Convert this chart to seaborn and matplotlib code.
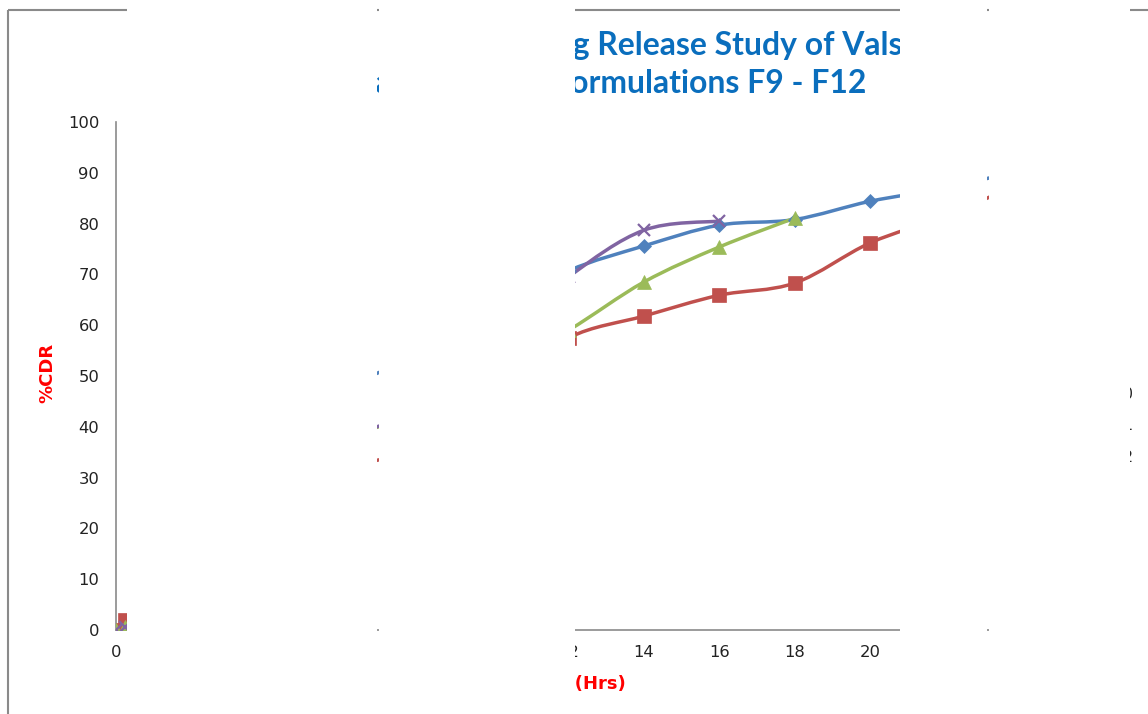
import numpy as np
import pandas as pd
import matplotlib
matplotlib.use("Agg")
import matplotlib.pyplot as plt
import seaborn as sns
from matplotlib.path import Path
from matplotlib.patches import PathPatch, Rectangle
from matplotlib.lines import Line2D
from matplotlib.font_manager import FontProperties

# ---------------- data ----------------
times = [0, 0.25, 1, 2, 4, 6, 8, 10, 12, 14, 16, 18, 20, 22, 24]
f9 = [0, 0.8, 8, 18, 34, 47, 54, 62.5, 70.7, 75.6, 79.7, 80.8, 84.4, 87, 90.5]
f10 = [0, 2.0, 6, 12, 24, 31.5, 36, 47, 57.5, 61.8, 65.9, 68.3, 76.2, 81.5, 88]
f11 = [0, 0.6, 7, 15, 28, 37.5, 42.5, 51, 59, 68.5, 75.4, 81.1, np.nan, np.nan, np.nan]
f12 = [0, 0.5, 7, 16, 29, 37.5, 43.5, 57, 69.5, 78.7, 80.5, np.nan, np.nan, np.nan, np.nan]
series_names = ["F9", "F10", "F11", "F12"]
x_ticks = list(range(0, 25, 2))
y_ticks = list(range(0, 101, 10))
title_line1 = "In-Vitro Drug Release Study of Valsartan"
title_line2 = "Floating Tablet Formulations F9 - F12"
x_label = "Time (Hrs)"
y_label = "%CDR"

colors = ["#4F81BD", "#C0504D", "#9BBB59", "#8064A2"]
markers = ["D", "s", "^", "x"]
msizes = [7.5, 9.5, 10, 9]

df = pd.DataFrame({"time": times, "F9": f9, "F10": f10, "F11": f11, "F12": f12})

# ---------------- figure ----------------
sns.set_theme(style="white")
plt.rcParams["font.family"] = ["DejaVu Sans"]

W, H = 1148, 714
fig = plt.figure(figsize=(W / 100, H / 100), dpi=100)
fig.patch.set_facecolor("white")


def fx(px):
    return px / W


def fy(py):
    return 1 - py / H


ax = fig.add_axes([fx(116), fy(630), fx(1021) - fx(116), fy(122) - fy(630)])
ax.set_facecolor("white")
ax.set_xlim(0, 24)
ax.set_ylim(0, 100)
ax.set_xticks(x_ticks)
ax.set_yticks(y_ticks)
ax.set_xticklabels([str(v) for v in x_ticks])
ax.set_yticklabels([str(v) for v in y_ticks])
for s in ["top", "right"]:
    ax.spines[s].set_visible(False)
for s in ["left", "bottom"]:
    ax.spines[s].set_color("#8a8a8a")
    ax.spines[s].set_linewidth(1.2)
ax.tick_params(axis="both", length=0, labelsize=11.8, colors="#222222")
ax.tick_params(axis="x", pad=11)
ax.tick_params(axis="y", pad=12)
ax.grid(False)


def smooth_path(xs, ys):
    pts = np.column_stack([xs, ys])
    n = len(pts)
    verts = [pts[0]]
    codes = [Path.MOVETO]
    for i in range(n - 1):
        p0 = pts[i - 1] if i > 0 else pts[i]
        p1 = pts[i]
        p2 = pts[i + 1]
        p3 = pts[i + 2] if i + 2 < n else pts[i + 1]
        verts += [p1 + (p2 - p0) / 6.0, p2 - (p3 - p1) / 6.0, p2]
        codes += [Path.CURVE4] * 3
    return Path(verts, codes)


handles = []
for k, name in enumerate(series_names):
    sub = df[["time", name]].dropna()
    patch = PathPatch(smooth_path(sub["time"].values, sub[name].values),
                      fill=False, edgecolor=colors[k], linewidth=2.5,
                      transform=ax.transData, zorder=2 + k * 0.1)
    ax.add_patch(patch)
    sns.lineplot(data=sub, x="time", y=name, ax=ax, color=colors[k],
                 marker=markers[k], markersize=msizes[k], linestyle="",
                 markeredgecolor=colors[k], markeredgewidth=1.6 if markers[k] == "x" else 0.5,
                 zorder=3 + k * 0.1, legend=False)
    handles.append(Line2D([0], [0], color=colors[k], lw=2.5, marker=markers[k],
                          markersize=msizes[k] * 0.9, markeredgecolor=colors[k],
                          markeredgewidth=1.6 if markers[k] == "x" else 0.5))
ax.set_xlabel("")
ax.set_ylabel("")

# axis titles
renderer = fig.canvas.get_renderer()


def wpx(s, fp):
    return renderer.get_text_width_height_descent(s, fp, ismath=False)[0]


lab_fp = FontProperties(family="DejaVu Sans", weight="bold", size=13)
x_center = 575 - wpx("Time ", lab_fp) + wpx(x_label, lab_fp) / 2
fig.text(fx(x_center), fy(684), x_label, color="red", fontproperties=lab_fp,
         ha="center", va="center")
fig.text(fx(47), fy(373), y_label, color="red", fontproperties=lab_fp,
         ha="center", va="center", rotation=90)

# title
tfp20 = FontProperties(family="Lato", weight="bold", size=20)
tsize = 20 * 305 / wpx("Release Study of Vals", tfp20)
tfp = FontProperties(family="Lato", weight="bold", size=tsize)
left1 = 597 - (wpx("In-Vitro Drug Release", tfp) - wpx("Release", tfp))
fig.text(fx(left1), fy(46), title_line1, color="#0A6EBD", fontproperties=tfp,
         ha="left", va="center")
fig.text(fx(866), fy(83), title_line2, color="#0A6EBD", fontproperties=tfp,
         ha="right", va="center")

# legend
fig.legend(handles, series_names, loc="center left",
           bbox_to_anchor=(fx(1054), fy(410)), bbox_transform=fig.transFigure,
           frameon=False, fontsize=11, handlelength=2.0, handletextpad=0.5,
           labelspacing=1.08, borderpad=0.4)

# chart-area border
border_kw = dict(transform=fig.transFigure, color="#8a8a8a", lw=1.5,
                 solid_capstyle="butt")
fig.add_artist(Line2D([fx(8), 1], [fy(10), fy(10)], **border_kw))
fig.add_artist(Line2D([fx(8), fx(8)], [fy(10), 0], **border_kw))

# blank (white) strips covering parts of the picture, as in the reference
for a, b in [(127, 377), (379, 575), (900, 987), (989, 1130)]:
    fig.add_artist(Rectangle((fx(a), 0), fx(b) - fx(a), 1,
                             transform=fig.transFigure, facecolor="white",
                             edgecolor="none", zorder=20))

fig.savefig("out.png", dpi=100)
